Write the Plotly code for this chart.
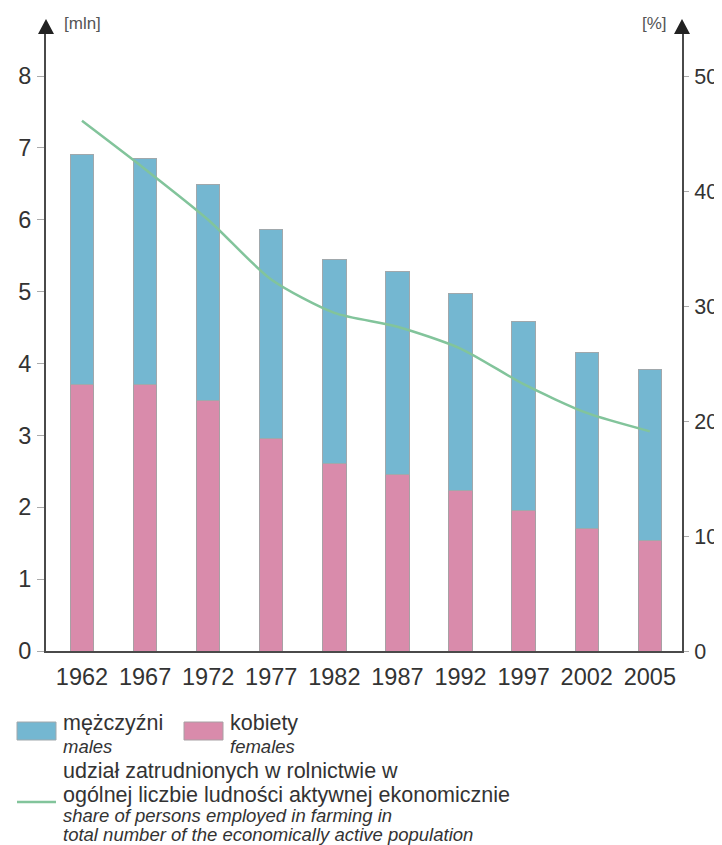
import plotly.graph_objects as go

years = ["1962", "1967", "1972", "1977", "1982", "1987", "1992", "1997", "2002", "2005"]
total_mln = [6.91, 6.85, 6.49, 5.87, 5.45, 5.28, 4.98, 4.58, 4.16, 3.91]
females_mln = [3.71, 3.71, 3.48, 2.96, 2.61, 2.46, 2.24, 1.96, 1.70, 1.54]
males_mln = [round(t - f, 2) for t, f in zip(total_mln, females_mln)]
share_pct = [46.1, 41.9, 37.5, 32.3, 29.4, 28.2, 26.3, 23.2, 20.7, 19.1]

left_ticks = [0, 1, 2, 3, 4, 5, 6, 7, 8]
right_ticks = [0, 10, 20, 30, 40, 50]

BLUE = "#74b7d1"
PINK = "#d98bab"
GREEN = "#82c49b"
AX = "#4a4a4a"
TXT = "#333333"
FONT = "Liberation Sans, Arial, sans-serif"

OFF = 8  # page body margin
W_FIG, H_FIG = 722, 845
# plot area in screen pixels
L, R, T, B = 46, 682, 32, 651


def px(x):
    return (x - L) / (R - L)


def py(y):
    return (B - y) / (B - T)


fig = go.Figure()
fig.add_trace(go.Bar(x=years, y=females_mln, name="kobiety", marker=dict(color=PINK, line=dict(color="#a8a0a4", width=1)), width=0.37))
fig.add_trace(go.Bar(x=years, y=males_mln, name="mężczyźni", marker=dict(color=BLUE, line=dict(color="#a0a8ac", width=1)), width=0.37))
fig.add_trace(go.Scatter(x=years, y=share_pct, yaxis="y2", mode="lines", name="share",
                         line=dict(color=GREEN, width=2.5, shape="spline", smoothing=0.7)))

ymax = (B - T) / 71.875
TICKSZ = 23.5
fig.update_layout(
    width=W_FIG, height=H_FIG,
    margin=dict(l=L - OFF, r=W_FIG - (R - OFF), t=T - OFF, b=H_FIG - (B - OFF), pad=0, autoexpand=False),
    barmode="stack",
    showlegend=False,
    plot_bgcolor="white", paper_bgcolor="white",
    font=dict(family=FONT, color=TXT, size=21),
    xaxis=dict(range=[-0.57, 9.51], showline=True, linecolor=AX, linewidth=2, ticks="", automargin=False,
               showgrid=False, zeroline=False, tickfont=dict(size=TICKSZ, color=TXT), ticklabelstandoff=4),
    yaxis=dict(range=[0, ymax], tickvals=left_ticks, showline=True, linecolor=AX, linewidth=2,
               ticks="outside", ticklen=7, tickcolor="#aaaaaa", tickwidth=1, showgrid=False, automargin=False,
               zeroline=False, tickfont=dict(size=TICKSZ, color=TXT), ticklabelstandoff=1),
    yaxis2=dict(range=[0, ymax / 8 * 50], tickvals=right_ticks, overlaying="y", side="right",
                showline=True, linecolor=AX, linewidth=2, ticks="outside", ticklen=5, automargin=False,
                tickcolor="#aaaaaa", tickwidth=1, showgrid=False, zeroline=False,
                tickfont=dict(size=21.5, color=TXT), ticklabelstandoff=1),
)

shapes = []
for xa in (0, 1):
    shapes.append(dict(type="path", xref="paper", yref="paper", xanchor=xa, yanchor=1,
                       xsizemode="pixel", ysizemode="pixel",
                       path="M -8 -2 L 8 -2 L 0 13 Z", fillcolor="#222222", line=dict(width=0)))
# legend swatches
shapes.append(dict(type="rect", xref="paper", yref="paper", x0=px(17), x1=px(56), y0=py(740), y1=py(722),
                   fillcolor=BLUE, line=dict(color="#a0a8ac", width=1)))
shapes.append(dict(type="rect", xref="paper", yref="paper", x0=px(184), x1=px(223), y0=py(740), y1=py(722),
                   fillcolor=PINK, line=dict(color="#a8a0a4", width=1)))
shapes.append(dict(type="line", xref="paper", yref="paper", x0=px(17), x1=px(56), y0=py(802), y1=py(802),
                   line=dict(color=GREEN, width=2.5)))
fig.update_layout(shapes=shapes)

ann = []


def txt(t, x, y, size, italic=False, anchor="left", color=TXT):
    ann.append(dict(text=t, x=px(x), y=py(y), xref="paper", yref="paper", xanchor=anchor, yanchor="middle",
                    showarrow=False, font=dict(size=size, color=color, family=FONT,
                                               style="italic" if italic else "normal")))


txt("[mln]", 62, 24, 17, color="#555555")
txt("[%]", 669, 24, 17, anchor="right", color="#555555")
txt("mężczyźni", 61, 723, 21.5)
txt("males", 61, 746, 18.5, italic=True)
txt("kobiety", 228, 723, 21.5)
txt("females", 228, 746, 18.5, italic=True)
txt("udział zatrudnionych w rolnictwie w", 61, 771, 21.5)
txt("ogólnej liczbie ludności aktywnej ekonomicznie", 61, 795, 21.5)
txt("share of persons employed in farming in", 61, 815, 18.5, italic=True)
txt("total number of the economically active population", 61, 834, 18.5, italic=True)
fig.update_layout(annotations=ann)

fig.write_html("out.html")
